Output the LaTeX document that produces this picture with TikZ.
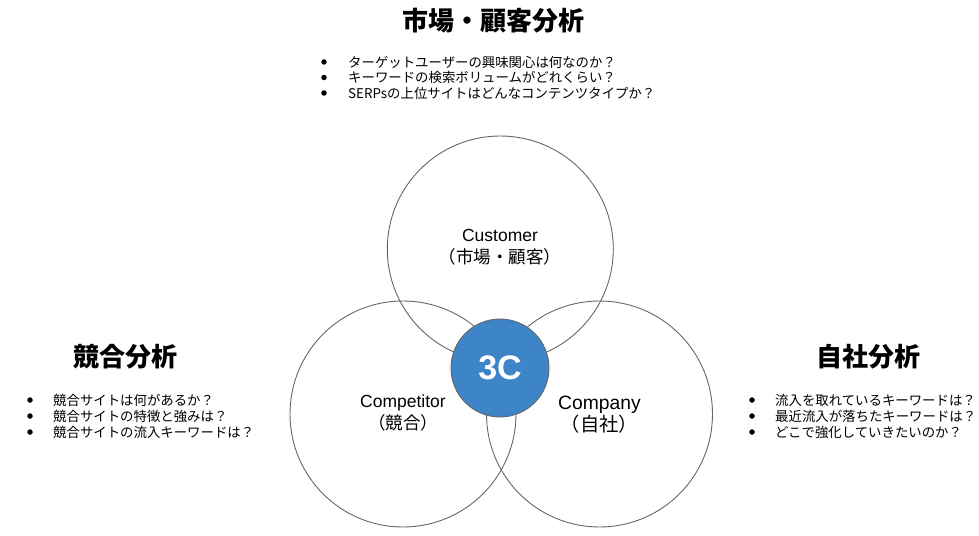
\documentclass[tikz,border=0pt]{standalone}
\usepackage{fontspec}
\setmainfont{Liberation Sans}
\newfontfamily\jp{Noto Sans CJK JP}
\definecolor{ringgray}{HTML}{666666}
\definecolor{cblue}{HTML}{3D85C6}
\tikzset{
  ring/.style={circle, draw=ringgray, line width=0.9pt, minimum size=226pt, inner sep=0pt},
  core/.style={circle, draw=ringgray, line width=0.9pt, fill=cblue, minimum size=98pt, inner sep=0pt,
    text=white, font=\fontsize{34}{36}\selectfont\bfseries},
  title/.style={font=\jp\bfseries\fontsize{26}{28}\selectfont, inner sep=0pt},
  item/.style={anchor=west, font=\jp\fontsize{13.4}{15}\selectfont, inner sep=0pt},
  dot/.style={circle, fill=black, inner sep=0pt, minimum size=5.5pt},
  lab/.style={align=center, font=\fontsize{17.5}{23}\selectfont, inner sep=0pt},
}
\begin{document}
\begin{tikzpicture}[x=1pt,y=-1pt]
\useasboundingbox (0,0) rectangle (979,535);
% circles
\node[ring] (cust) at (500.3,249) {};
\node[ring] (comp) at (403,414) {};
\node[ring] (self) at (599.5,414) {};
\node[core] (core) at (500,368) {3C};
% circle labels
\node[lab] (custlab) at (500,247.5) {Customer\\[-1pt]{\jp （市場・顧客）}};
\node[lab] (complab) at (403,413) {Competitor\\[-1pt]{\jp （競合）}};
\node[lab, font=\fontsize{19.3}{23}\selectfont] (selflab) at (599.5,414.5) {Company\\[-1pt]{\jp （自社）}};
% titles
\node[title] (t1) at (493,21) {市場・顧客分析};
\node[title] (t2) at (125,357) {競合分析};
\node[title] (t3) at (868,357) {自社分析};
% top list
\node[dot] (d11) at (324,62) {};
\node[dot] (d12) at (324,77.5) {};
\node[dot] (d13) at (324,93) {};
\node[item] (i11) at (348,62) {ターゲットユーザーの興味関心は何なのか？};
\node[item] (i12) at (348,77.5) {キーワードの検索ボリュームがどれくらい？};
\node[item] (i13) at (348,93) {SERPsの上位サイトはどんなコンテンツタイプか？};
% left list
\node[dot] (d21) at (30,400) {};
\node[dot] (d22) at (30,416) {};
\node[dot] (d23) at (30,432) {};
\node[item] (i21) at (53,400) {競合サイトは何があるか？};
\node[item] (i22) at (53,416) {競合サイトの特徴と強みは？};
\node[item] (i23) at (53,432) {競合サイトの流入キーワードは？};
% right list
\node[dot] (d31) at (752,400) {};
\node[dot] (d32) at (752,416) {};
\node[dot] (d33) at (752,432) {};
\node[item] (i31) at (775,400) {流入を取れているキーワードは？};
\node[item] (i32) at (775,416) {最近流入が落ちたキーワードは？};
\node[item] (i33) at (775,432) {どこで強化していきたいのか？};
\end{tikzpicture}
\end{document}
